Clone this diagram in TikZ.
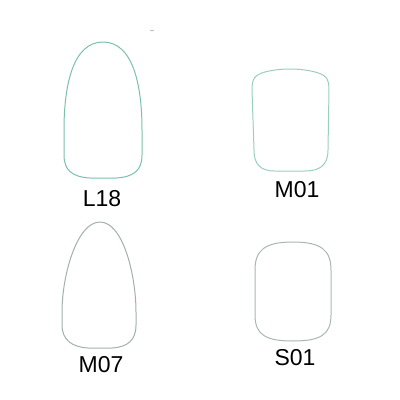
\documentclass[tikz,border=0pt]{standalone}
\usepackage{fontspec}
\setmainfont{Liberation Sans}
\definecolor{cA}{HTML}{7DBFAE}
\definecolor{cB}{HTML}{9ACFBD}
\definecolor{cC}{HTML}{A2B0AE}
\definecolor{cD}{HTML}{A8B6B6}
\tikzset{
  nail/.style={line width=1pt, line join=round},
  lbl/.style={font=\fontsize{23}{25}\selectfont, inner sep=0pt, text=black}
}
\begin{document}
\begin{tikzpicture}[x=1pt,y=-1pt]
\useasboundingbox (0,0) rectangle (400,400);
\fill[white] (0,0) rectangle (400,400);
% L18
\draw[nail, draw=cA] (103,42) .. controls (73,42) and (64,85) .. (64,130) -- (64,155)
  .. controls (64,170) and (72,177) .. (90,178) -- (116,178)
  .. controls (134,177) and (142,170) .. (142,155) -- (142,130)
  .. controls (142,85) and (133,42) .. (103,42) -- cycle;
\node[lbl] (l18) at (102,199) {L18};
% M01
\draw[nail, draw=cB] (252,90) .. controls (252,78) and (255,75) .. (265,72)
  .. controls (280,68) and (300,68) .. (315,72)
  .. controls (326,75) and (329,78) .. (329,90) -- (328,150)
  .. controls (328,165) and (320,171) .. (305,171) -- (275,171)
  .. controls (261,171) and (254,165) .. (254,150) -- cycle;
\node[lbl] (m01) at (297,190) {M01};
% M07
\draw[nail, draw=cC] (100,222) .. controls (77,222) and (62,275) .. (62,312) -- (62,325)
  .. controls (62,340) and (72,347) .. (88,348) -- (112,348)
  .. controls (128,347) and (136,340) .. (136,325) -- (136,312)
  .. controls (136,275) and (123,222) .. (100,222) -- cycle;
\node[lbl] (m07) at (101,365) {M07};
% S01
\draw[nail, draw=cD] (255,270) .. controls (255,250) and (265,242) .. (293,242)
  .. controls (321,242) and (331,250) .. (331,270) -- (331,315)
  .. controls (331,335) and (320,341) .. (293,341)
  .. controls (266,341) and (255,335) .. (255,315) -- cycle;
\node[lbl] (s01) at (295,358) {S01};
% speck
\draw[black!25, line width=0.6pt] (150,30.5) -- (154,30.5);
\end{tikzpicture}
\end{document}
